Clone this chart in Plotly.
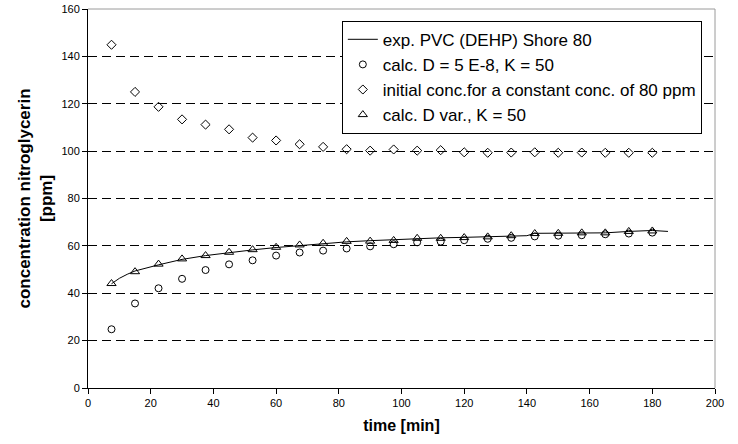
import plotly.graph_objects as go

# ---- data ----
calc_time = [7.5, 15, 22.5, 30, 37.5, 45, 52.5, 60, 67.5, 75, 82.5, 90,
             97.5, 105, 112.5, 120, 127.5, 135, 142.5, 150, 157.5, 165, 172.5, 180]

calc_d_const = [24.8, 35.7, 42.1, 46.1, 49.8, 52.2, 53.9, 55.9, 57.2, 58.0, 58.9, 59.8,
                60.7, 61.5, 61.8, 62.4, 63.0, 63.4, 64.0, 64.3, 64.5, 64.9, 65.2, 65.6]

initial_conc = [144.9, 125.0, 118.7, 113.4, 111.2, 109.2, 105.7, 104.5, 102.9, 101.8, 100.8, 100.2,
                100.7, 100.2, 100.4, 99.5, 99.3, 99.4, 99.5, 99.3, 99.4, 99.3, 99.3, 99.3]

calc_d_var = [44.1, 49.1, 52.3, 54.5, 55.9, 57.3, 58.4, 59.4, 60.4, 61.1, 61.9, 62.0,
              62.3, 63.2, 63.2, 63.5, 63.8, 64.3, 65.2, 65.3, 65.5, 65.5, 66.1, 66.3]

exp_time = [7.5, 10, 12.5, 15, 22.5, 30, 37.5, 45, 52.5, 60, 67.5, 75, 82.5, 90, 97.5,
            105, 112.5, 120, 127.5, 135, 140, 142.5, 150, 157.5, 165, 172.5, 180, 185]
exp_conc = [44.0, 46.3, 48.0, 49.4, 52.0, 54.3, 55.9, 57.2, 58.3, 59.3, 60.2, 60.8, 61.7, 62.2, 62.6,
            63.2, 63.4, 63.6, 63.8, 64.1, 64.3, 65.3, 65.4, 65.6, 65.5, 66.1, 66.5, 66.1]

names = ["exp. PVC (DEHP) Shore 80",
         "calc. D = 5 E-8, K = 50",
         "initial conc.for a constant conc. of 80 ppm",
         "calc. D var., K = 50"]

x_ticks = list(range(0, 201, 20))
y_ticks = list(range(0, 161, 20))

FONT = "Liberation Sans, Arial, sans-serif"

fig = go.Figure()
fig.add_trace(go.Scatter(x=exp_time, y=exp_conc, mode="lines", name=names[0],
                         line=dict(color="black", width=1), legendgroup="a"))
fig.add_trace(go.Scatter(x=calc_time, y=calc_d_const, mode="markers", name=names[1],
                         marker=dict(symbol="circle-open", size=7, color="black",
                                     line=dict(width=1, color="black")), legendgroup="b"))
fig.add_trace(go.Scatter(x=calc_time, y=initial_conc, mode="markers", name=names[2],
                         marker=dict(symbol="diamond-open", size=7, color="black",
                                     line=dict(width=1, color="black")), legendgroup="c"))
fig.add_trace(go.Scatter(x=calc_time, y=calc_d_var, mode="markers", name=names[3],
                         marker=dict(symbol="triangle-up-open", size=8, color="black",
                                     line=dict(width=1, color="black")), legendgroup="d"))

fig.update_layout(
    width=738, height=444,
    margin=dict(l=88, r=23, t=9, b=56, autoexpand=False),
    paper_bgcolor="white", plot_bgcolor="white",
    font=dict(family=FONT, color="black"),
    legend=dict(x=0.979, y=0.969, xanchor="right", yanchor="top",
                bgcolor="white", bordercolor="black", borderwidth=1,
                font=dict(size=17, family=FONT), tracegroupgap=8.5,
                traceorder="normal"),
    xaxis=dict(range=[0, 200], tickvals=x_ticks, showgrid=False, zeroline=False,
               automargin=False,
               showline=True, linecolor="black", linewidth=1,
               ticks="outside", ticklen=5, tickcolor="black",
               tickfont=dict(size=11),
               title=dict(text="<b>time [min]</b>", font=dict(size=16), standoff=11)),
    yaxis=dict(range=[0, 160], tickvals=y_ticks, showgrid=True, gridcolor="black",
               gridwidth=1, griddash="9px,5px", zeroline=False,
               automargin=False,
               showline=True, linecolor="black", linewidth=1,
               ticks="outside", ticklen=5, tickcolor="black",
               tickfont=dict(size=11),
               title=dict(text="<b>concentration nitroglycerin<br>[ppm]</b>",
                          font=dict(size=17), standoff=4)),
)

# grey frame on top and right edge of plot area
fig.add_shape(type="line", xref="paper", yref="paper", x0=0, x1=1, y0=1, y1=1,
              line=dict(color="#9a9a9a", width=1), layer="above")
fig.add_shape(type="line", xref="paper", yref="paper", x0=1, x1=1, y0=0, y1=1,
              line=dict(color="#9a9a9a", width=1), layer="above")

fig.write_html("out.html", config={"displayModeBar": False},
               post_script="document.body.style.margin='0';")
